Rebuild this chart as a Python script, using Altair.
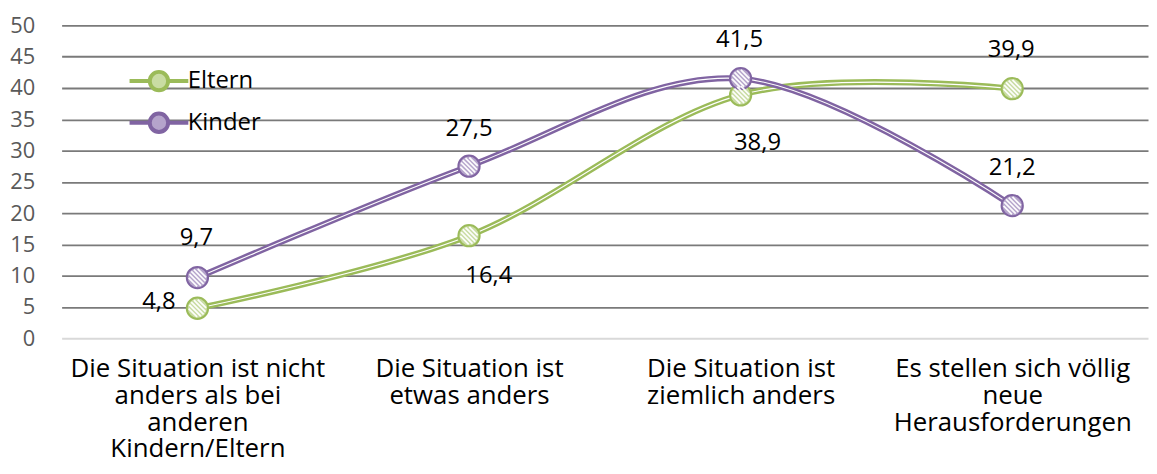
import math
import altair as alt
import pandas as pd

# ---- data ----
category_lines = [
    ["Die Situation ist nicht", "anders als bei", "anderen", "Kindern/Eltern"],
    ["Die Situation ist", "etwas anders"],
    ["Die Situation ist", "ziemlich anders"],
    ["Es stellen sich völlig", "neue", "Herausforderungen"],
]
series_names = ["Eltern", "Kinder"]
eltern = [4.8, 16.4, 38.9, 39.9]
kinder = [9.7, 27.5, 41.5, 21.2]
y_ticks = [0, 5, 10, 15, 20, 25, 30, 35, 40, 45, 50]

categories = ["\n".join(c) for c in category_lines]
rows = []
for name, vals in zip(series_names, [eltern, kinder]):
    for i, (cat, v) in enumerate(zip(categories, vals)):
        rows.append({"cat": cat, "idx": i, "series": name, "value": v})
df = pd.DataFrame(rows)

# ---- styles ----
FONT = "Open Sans"
dark = ["#9bbb59", "#8064a2"]
light = ["#c9dca3", "#b5a4cb"]

# label placement (dx, dy, align) per (series, category index)
placements = {
    ("Eltern", 0): (-22, -6, "right"),
    ("Eltern", 1): (20, 41, "center"),
    ("Eltern", 2): (17, 48, "center"),
    ("Eltern", 3): (-1, -39, "center"),
    ("Kinder", 0): (-1, -40, "center"),
    ("Kinder", 1): (0, -37, "center"),
    ("Kinder", 2): (-1, -39, "center"),
    ("Kinder", 3): (0, -38, "center"),
}

# hatch stripes for markers (unit square -1..1)
r = 0.82
stripe_parts = []
for d in [-0.6, -0.3, 0.0, 0.3, 0.6]:
    cx, cy = d / math.sqrt(2), -d / math.sqrt(2)
    h = math.sqrt(r * r - d * d)
    ux, uy = h / math.sqrt(2), h / math.sqrt(2)
    stripe_parts.append(
        f"M{cx-ux:.3f},{cy-uy:.3f}L{cx+ux:.3f},{cy+uy:.3f}"
    )
stripe_path = "".join(stripe_parts)

legend_path = "M-3.2,0H-1M1,0H3.2M-1,0A1,1,0,1,0,1,0A1,1,0,1,0,-1,0Z"

x_axis = alt.Axis(
    title=None, labelAngle=0, labelFont=FONT, labelFontSize=26,
    labelLineHeight=26.7, labelColor="black", labelPadding=18,
    labelBaseline="top", labelLimit=400, labelOverlap=False,
    domain=False, ticks=False, grid=False,
    labelExpr="split(datum.label, '\\n')",
)
y_axis = alt.Axis(
    title=None, values=y_ticks, labelFont=FONT, labelFontSize=22,
    labelColor="#595959", labelPadding=27, domain=False, ticks=False,
    grid=True, gridWidth=1.8,
    gridColor={"condition": {"test": "datum.value === 0", "value": "#d9d9d9"},
               "value": "#7a7a7a"},
)

base = alt.Chart(df).encode(
    x=alt.X("cat:N", sort=categories, axis=x_axis),
    y=alt.Y("value:Q", scale=alt.Scale(domain=[0, 50]), axis=y_axis),
)

line_layers = []
for name, col in zip(series_names, dark):
    sub = base.transform_filter(f"datum.series === '{name}'")
    line_layers.append(sub.mark_line(interpolate="cardinal", strokeWidth=6, color=col))
    line_layers.append(sub.mark_line(interpolate="cardinal", strokeWidth=1.1, color="white"))

leg = alt.Legend(
    orient="none", legendX=86, legendY=44, title=None, symbolType=legend_path,
    symbolSize=342, symbolStrokeWidth=4, labelFont=FONT, labelFontSize=24,
    labelColor="black", labelOffset=17, rowPadding=6, padding=0,
)
points = base.mark_point(filled=True, size=460, strokeWidth=2, opacity=1, shape="circle").encode(
    fill=alt.Fill("series:N", scale=alt.Scale(domain=series_names, range=light), legend=leg),
    stroke=alt.Stroke("series:N", scale=alt.Scale(domain=series_names, range=dark), legend=leg),
)
stripes = base.mark_point(shape=stripe_path, size=460, filled=False, color="white",
                          strokeWidth=1.8, opacity=0.95).encode(detail="series:N")

text_layers = []
for (s, i), (dx, dy, al) in placements.items():
    t = base.transform_filter(
        f"datum.series === '{s}' && datum.idx === {i}"
    ).transform_calculate(
        lbl="replace(format(datum.value, '.1f'), '.', ',')"
    ).mark_text(font=FONT, fontSize=24, color="black", dx=dx, dy=dy,
                align=al, baseline="middle").encode(text="lbl:N")
    text_layers.append(t)

chart = alt.layer(*line_layers, points, stripes, *text_layers).properties(
    width=1094, height=315,
    padding={"left": 54, "top": 16, "right": 1, "bottom": 120},
    autosize=alt.AutoSizeParams(type="none"),
).configure_view(stroke=None)

chart.save("out.html", embed_options={"renderer": "svg", "actions": False})
